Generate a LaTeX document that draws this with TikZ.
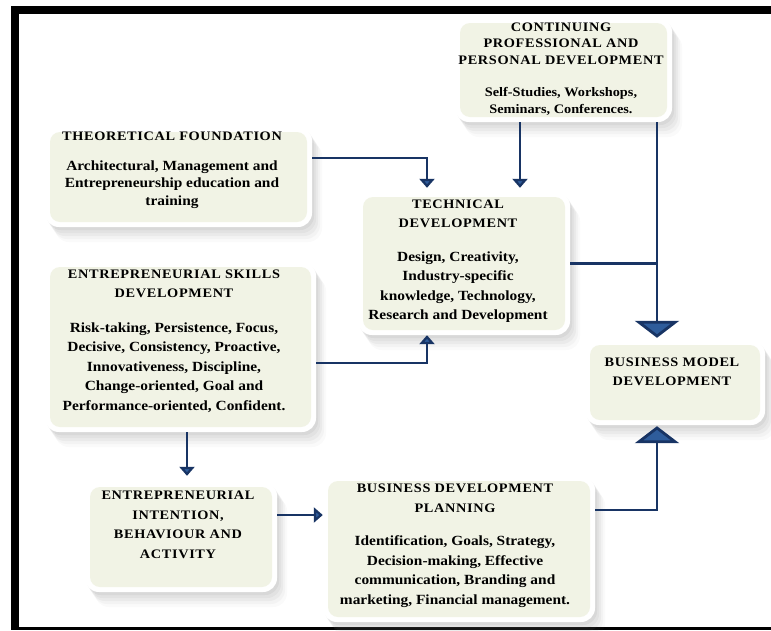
\documentclass[tikz,border=0pt]{standalone}
\usepackage{fontspec}
\setmainfont{Liberation Serif}[FakeStretch=1.1]
\usetikzlibrary{shadows,arrows.meta}
\definecolor{navy}{RGB}{24,52,100}
\definecolor{tipblue}{RGB}{46,92,155}
\definecolor{boxfill}{RGB}{241,243,229}
\newcommand{\ttl}[1]{{\fontsize{13}{19}\selectfont\addfontfeatures{LetterSpace=5}#1}}
\tikzset{
  box/.style={rounded corners=14pt, fill=white,
    drop shadow={shadow xshift=2pt, shadow yshift=-3pt, opacity=.10},
    drop shadow={shadow xshift=4pt, shadow yshift=-6pt, opacity=.08},
    drop shadow={shadow xshift=6pt, shadow yshift=-9pt, opacity=.07},
    drop shadow={shadow xshift=8pt, shadow yshift=-12pt, opacity=.05},
    drop shadow={shadow xshift=10pt, shadow yshift=-15pt, opacity=.04},
    path picture={\fill[boxfill, rounded corners=10pt]
      ([xshift=5pt,yshift=-5pt]path picture bounding box.north west) rectangle
      ([xshift=-5pt,yshift=5pt]path picture bounding box.south east);}},
  txt/.style={align=center, inner sep=0pt, font=\bfseries\fontsize{14}{19.5}\selectfont},
  conn/.style={draw=navy, line width=2.8pt},
  smalltip/.style={-{Triangle[width=15pt,length=9pt,fill=tipblue]}},
  bigtip/.style={-{Triangle[width=44pt,length=17pt,fill=tipblue]}}
}
\begin{document}
\begin{tikzpicture}[x=1pt,y=-1pt]
\useasboundingbox (0,0) rectangle (771,630);
\fill[white] (0,0) rectangle (771,630);
% frame
\fill[black] (11,6) rectangle (771,14);
\fill[black] (11,6) rectangle (19,630);
\fill[black] (11,627) rectangle (771,630);

% boxes
\node[box, minimum width=217pt, minimum height=104pt] (cppd) at (563.5,70) {};
\node[box, minimum width=267pt, minimum height=100pt] (tf) at (178.5,177) {};
\node[box, minimum width=212pt, minimum height=143pt] (td) at (464,263.5) {};
\node[box, minimum width=271pt, minimum height=170pt] (esd) at (180.5,347) {};
\node[box, minimum width=180pt, minimum height=85pt] (bmd) at (675,382.5) {};
\node[box, minimum width=192pt, minimum height=110pt] (eiba) at (181,537) {};
\node[box, minimum width=272pt, minimum height=146pt] (bdp) at (459,549) {};

% texts
\node[txt, font=\bfseries\fontsize{13}{16.5}\selectfont] (cppdT) at (561,69)
  {\ttl{CONTINUING}\\\ttl{PROFESSIONAL AND}\\\ttl{PERSONAL DEVELOPMENT}\\[16pt]
   Self-Studies, Workshops,\\Seminars, Conferences.};
\node[txt, font=\bfseries\fontsize{14}{17.5}\selectfont] (tfT) at (172,170)
  {\ttl{THEORETICAL FOUNDATION}\\[12pt]
   Architectural, Management and\\Entrepreneurship education and\\training};
\node[txt] (tdT) at (458,261)
  {\ttl{TECHNICAL}\\\ttl{DEVELOPMENT}\\[14pt]
   Design, Creativity,\\Industry-specific\\knowledge, Technology,\\Research and Development};
\node[txt] (esdT) at (174,341)
  {\ttl{ENTREPRENEURIAL SKILLS}\\\ttl{DEVELOPMENT}\\[15pt]
   Risk-taking, Persistence, Focus,\\Decisive, Consistency, Proactive,\\Innovativeness, Discipline,\\Change-oriented, Goal and\\Performance-oriented, Confident.};
\node[txt] (bmdT) at (672,372)
  {\ttl{BUSINESS MODEL}\\\ttl{DEVELOPMENT}};
\node[txt] (eibaT) at (178,525)
  {\ttl{ENTREPRENEURIAL}\\\ttl{INTENTION,}\\\ttl{BEHAVIOUR AND}\\\ttl{ACTIVITY}};
\node[txt] (bdpT) at (455,545.5)
  {\ttl{BUSINESS DEVELOPMENT}\\\ttl{PLANNING}\\[14pt]
   Identification, Goals, Strategy,\\Decision-making, Effective\\communication, Branding and\\marketing, Financial management.};

% connector coordinates
\coordinate (b1) at (427,158);
\coordinate (c2) at (520,0);
\coordinate (c3) at (657,0);
\coordinate (b5) at (427,363);
\coordinate (c6) at (187,0);
\coordinate (c7) at (0,515);
\coordinate (b8) at (657,510);

% connectors
\draw[conn, smalltip, shorten >=4pt] (tf.east |- b1) -- (b1) -- (b1 |- td.north);
\draw[conn, smalltip, shorten >=4pt] (c2 |- cppd.south) -- (c2 |- td.north);
\draw[conn, bigtip, shorten >=2pt] (c3 |- cppd.south) -- (c3 |- bmd.north);
\draw[conn] (td.east) -- (td.east -| c3);
\draw[conn, smalltip] (esd.east |- b5) -- (b5) -- (b5 |- td.south);
\draw[conn, smalltip, shorten >=6pt] (c6 |- esd.south) -- (c6 |- eiba.north);
\draw[conn, smalltip] (eiba.east |- c7) -- (bdp.west |- c7);
\draw[conn, bigtip, shorten >=1pt] (bdp.east |- b8) -- (b8) -- (b8 |- bmd.south);
\end{tikzpicture}
\end{document}
